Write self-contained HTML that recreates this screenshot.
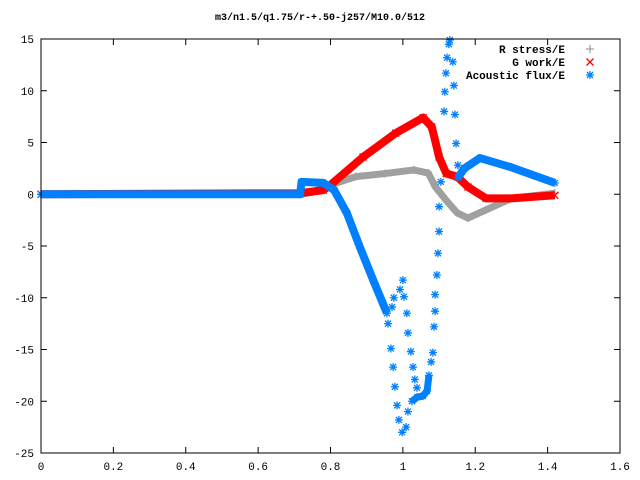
<!DOCTYPE html>
<html><head><meta charset="utf-8"><style>
html,body{margin:0;padding:0;background:#fff;}
svg{display:block;font-family:"Liberation Mono",monospace;}
</style></head><body>
<svg id="chart" width="640" height="480">
<text x="320" y="20" text-anchor="middle" font-size="10" font-weight="bold">m3/n1.5/q1.75/r-+.50-j257/M10.0/512</text>
<g id="axes"></g><g id="series"></g><g id="legend"></g>
<rect x="41" y="39" width="579" height="414" fill="none" stroke="#000"/>
</svg>
<script>
const xTicks=[0,0.2,0.4,0.6,0.8,1,1.2,1.4,1.6];
const xTickLabels=["0","0.2","0.4","0.6","0.8","1","1.2","1.4","1.6"];
const yTicks=[-25,-20,-15,-10,-5,0,5,10,15];
const yTickLabels=["-25","-20","-15","-10","-5","0","5","10","15"];
const grayX=[0,0.72,0.75,0.8,0.87,0.95,1.03,1.07,1.09,1.12,1.15,1.18,1.23,1.3,1.42];
const grayY=[0,0,0.2,0.9,1.7,2.0,2.35,2.05,0.7,-0.6,-1.8,-2.3,-1.5,-0.4,0.1];
const redX=[0,0.716,0.78,0.8,0.89,0.98,1.056,1.08,1.1,1.12,1.15,1.18,1.23,1.3,1.42];
const redY=[0,0.1,0.4,0.9,3.6,5.9,7.4,6.5,3.6,2.0,1.7,0.7,-0.4,-0.4,-0.1];
const blueAX=[0,0.716,0.72,0.78,0.81,0.845,0.88,0.918,0.956];
const blueAY=[0,0,1.2,1.1,0.4,-1.8,-5.0,-8.3,-11.5];
const blueBX=[1.025,1.04,1.055,1.067,1.072];
const blueBY=[-20,-19.6,-19.5,-19.0,-17.5];
const blueCX=[1.152,1.17,1.213,1.3,1.42];
const blueCY=[1.6,2.5,3.5,2.6,1.1];
const blueSX=[0.959,0.967,0.973,0.978,0.984,0.989,0.998,1.009,1.014,0.970,0.975,0.992,1.000,1.003,1.011,1.014,1.022,1.028,1.033,1.039,1.078,1.083,1.086,1.089,1.089,1.094,1.097,1.100,1.100,1.105,1.114,1.116,1.119,1.122,1.127,1.130,1.138,1.141,1.144,1.147,1.152];
const blueSY=[-12.5,-14.9,-16.7,-18.6,-20.4,-21.8,-23,-22.5,-21,-10.9,-10,-9.2,-8.3,-9.9,-11.5,-13.4,-15.2,-16.7,-17.9,-18.7,-16.2,-15.3,-12.8,-11.3,-9.7,-7.8,-5.7,-3.6,-1.2,1.2,8.0,9.9,11.7,13.2,14.5,14.9,12.8,10.5,7.7,4.9,2.8];
const NS="http://www.w3.org/2000/svg";
const sx=v=>41+v*361.875, sy=v=>194.25-v*10.35;
function mk(tag,parent){const e=document.createElementNS(NS,tag);parent.appendChild(e);return e;}
const axes=document.getElementById('axes');
xTicks.forEach((t,i)=>{
  const l=mk('path',axes);l.setAttribute('d',`M${sx(t)},453v-6M${sx(t)},39v6`);l.setAttribute('stroke','#000');
  
  
  const tx=mk('text',axes);tx.textContent=xTickLabels[i];tx.setAttribute('x',sx(t));tx.setAttribute('y',470);tx.setAttribute('text-anchor','middle');tx.setAttribute('font-size','11');
  
  
});
yTicks.forEach((t,i)=>{
  const l=mk('path',axes);l.setAttribute('d',`M41,${sy(t)}h6M620,${sy(t)}h-6`);l.setAttribute('stroke','#000');
  
  
  const tx=mk('text',axes);tx.textContent=yTickLabels[i];tx.setAttribute('x',34);tx.setAttribute('y',sy(t)+4);tx.setAttribute('text-anchor','end');tx.setAttribute('font-size','11');
  
  
});
const ser=document.getElementById('series');
function marker(g,x,y,type,col){
  const p=mk('path',g);let d;
  if(type==='+')d=`M${x-4},${y}h8M${x},${y-4}v8`;
  else if(type==='x')d=`M${x-3.5},${y-3.5}l7,7M${x-3.5},${y+3.5}l7,-7`;
  else d=`M${x-4},${y}h8M${x},${y-4}v8M${x-3},${y-3}l6,6M${x-3},${y+3}l6,-6`;
  p.setAttribute('d',d);p.setAttribute('stroke',col);p.setAttribute('stroke-width','1.3');p.setAttribute('fill','none');
  
  
}
function band(name,xs,ys,col,w,type){
  const g=mk('g',ser);
  
  
  const pl=mk('polyline',g);pl.setAttribute('points',xs.map((x,i)=>sx(x)+','+sy(ys[i])).join(' '));
  pl.setAttribute('fill','none');pl.setAttribute('stroke',col);pl.setAttribute('stroke-width',w);pl.setAttribute('stroke-linejoin','round');
  
  
  xs.forEach((x,i)=>marker(g,sx(x),sy(ys[i]),type,col));
}
band('r-stress-series',grayX,grayY,'#a0a0a0',7,'+');
band('g-work-series',redX,redY,'#ff0000',8,'x');
band('acoustic-flux-main',blueAX,blueAY,'#0080ff',8,'*');
band('acoustic-flux-trough',blueBX,blueBY,'#0080ff',7,'*');
band('acoustic-flux-tail',blueCX,blueCY,'#0080ff',8,'*');
const gs=mk('g',ser);


blueSX.forEach((x,i)=>marker(gs,sx(x),sy(blueSY[i]),'*','#0080ff'));
const leg=document.getElementById('legend');
[["R stress/E",'+','#a0a0a0'],["G work/E",'x','#ff0000'],["Acoustic flux/E",'*','#0080ff']].forEach((e,i)=>{
  const y=49+i*13;
  const t=mk('text',leg);t.textContent=e[0];t.setAttribute('x',565);t.setAttribute('y',y+4);t.setAttribute('text-anchor','end');t.setAttribute('font-size','11');t.setAttribute('font-weight','bold');
  
  
  marker(leg,590,y,e[1],e[2]);
});
</script>
</body></html>
